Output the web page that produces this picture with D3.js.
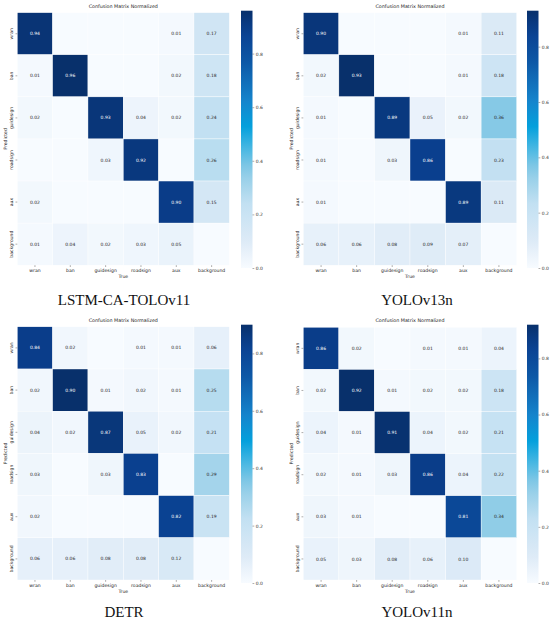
<!DOCTYPE html>
<html lang="en">
<head>
  <meta charset="UTF-8">
  <title>Confusion matrices</title>
  <script src="https://d3js.org/d3.v7.min.js"></script>
  <style>
    body { margin: 0; background: #fff; }
    svg { display: block; }
    .small { font-family: "DejaVu Sans", sans-serif; fill: #222; }
    .caption { font-family: "Liberation Serif", "DejaVu Serif", serif; font-size: 15px; fill: #111; }
    .cbar .domain { display: none; }
    .cbar text { font-family: "DejaVu Sans", sans-serif; font-size: 4.5px; fill: #333; }
    .cbar line { stroke: #333; stroke-width: 0.4; }
  </style>
</head>
<body>
<svg id="chart" width="550" height="625"></svg>
<script>
const labels = ["wran", "ban", "guidesign", "roadsign", "aux", "background"];
const models = ["LSTM-CA-TOLOv11", "YOLOv13n", "DETR", "YOLOv11n"];

// rows = Predicted, columns = True (0 = empty cell)
const lstmMatrix = [
  [0.94, 0,    0,    0,    0.01, 0.17],
  [0.01, 0.96, 0,    0,    0.02, 0.18],
  [0.02, 0,    0.93, 0.04, 0.02, 0.24],
  [0,    0,    0.03, 0.92, 0,    0.26],
  [0.02, 0,    0,    0,    0.90, 0.15],
  [0.01, 0.04, 0.02, 0.03, 0.05, 0]
];
const yolo13Matrix = [
  [0.90, 0,    0,    0,    0.01, 0.11],
  [0.02, 0.93, 0,    0,    0.01, 0.18],
  [0.01, 0,    0.89, 0.05, 0.02, 0.36],
  [0.01, 0,    0.03, 0.86, 0,    0.23],
  [0.01, 0,    0,    0,    0.89, 0.11],
  [0.06, 0.06, 0.08, 0.09, 0.07, 0]
];
const detrMatrix = [
  [0.84, 0.02, 0,    0.01, 0.01, 0.06],
  [0.02, 0.90, 0.01, 0.02, 0.01, 0.25],
  [0.04, 0.02, 0.87, 0.05, 0.02, 0.21],
  [0.03, 0,    0.03, 0.83, 0,    0.29],
  [0.02, 0,    0,    0,    0.82, 0.19],
  [0.06, 0.06, 0.08, 0.08, 0.12, 0]
];
const yolo11Matrix = [
  [0.86, 0.02, 0,    0.01, 0.01, 0.04],
  [0.02, 0.92, 0.01, 0.02, 0.02, 0.18],
  [0.04, 0.01, 0.91, 0.04, 0.02, 0.21],
  [0.02, 0.01, 0.03, 0.86, 0.04, 0.22],
  [0.03, 0.01, 0,    0,    0.81, 0.34],
  [0.05, 0.03, 0.08, 0.06, 0.10, 0]
];
const matrices = [lstmMatrix, yolo13Matrix, detrMatrix, yolo11Matrix];
const cbarTicks = [0, 0.2, 0.4, 0.6, 0.8];

// panel layout: heatmap box, colorbar box, caption position
const panels = [
  {x: 17.3,  y: 12.7,  w: 212, h: 252.5, cbx: 241, cby: 10.7,  cbh: 257.3, capX: 124, capY: 305},
  {x: 303.3, y: 12.7,  w: 213.4, h: 252.5, cbx: 527, cby: 10.7,  cbh: 257.3, capX: 417, capY: 305},
  {x: 17.3,  y: 326.8, w: 212, h: 253.2, cbx: 241, cby: 324.7, cbh: 258.3, capX: 124, capY: 617},
  {x: 303.3, y: 327.3, w: 213.4, h: 252.7, cbx: 527, cby: 324.7, cbh: 258.3, capX: 417, capY: 617}
];

const stops = [0, 0.1, 0.25, 0.38, 0.48, 0.55, 0.65, 0.8, 0.92, 1];
const stopColors = ["#f7fbff", "#deebf7", "#c2e0f2", "#8ccbe6", "#3cb4e2", "#04a0dc",
                    "#1584cc", "#0d58a6", "#0a4090", "#08306b"];

const svg = d3.select("#chart");
const defs = svg.append("defs");

matrices.forEach((m, k) => {
  const p = panels[k];
  const vmax = d3.max(m.flat());
  const color = d3.scaleLinear()
    .domain(stops.map(t => t * vmax))
    .range(stopColors)
    .interpolate(d3.interpolateRgb)
    .clamp(true);

  const x = d3.scaleBand().domain(labels).range([p.x, p.x + p.w]);
  const y = d3.scaleBand().domain(labels).range([p.y, p.y + p.h]);

  const g = svg.append("g");

  const cells = m.flatMap((row, i) => row.map((v, j) => ({r: labels[i], c: labels[j], v})));

  g.selectAll("rect.cell")
    .data(cells)
    .join("rect")
    .attr("class", "cell")
    .attr("x", d => x(d.c))
    .attr("y", d => y(d.r))
    .attr("width", x.bandwidth())
    .attr("height", y.bandwidth())
    .attr("fill", d => color(d.v))
    .attr("stroke", "#fff")
    .attr("stroke-width", 0.4);

  g.selectAll("text.val")
    .data(cells.filter(d => d.v > 0))
    .join("text")
    .attr("class", "small")
    .attr("x", d => x(d.c) + x.bandwidth() / 2)
    .attr("y", d => y(d.r) + y.bandwidth() / 2)
    .attr("dy", "0.35em")
    .attr("text-anchor", "middle")
    .style("font-size", "4.5px")
    .style("fill", d => d.v / vmax > 0.6 ? "#fff" : "#262626")
    .text(d => d.v.toFixed(2));

  // x ticks
  const xb = p.y + p.h;
  g.selectAll("line.xt")
    .data(labels).join("line")
    .attr("x1", d => x(d) + x.bandwidth() / 2).attr("x2", d => x(d) + x.bandwidth() / 2)
    .attr("y1", xb).attr("y2", xb + 1.8)
    .attr("stroke", "#333").attr("stroke-width", 0.4);
  g.selectAll("text.xl")
    .data(labels).join("text")
    .attr("class", "small")
    .attr("x", d => x(d) + x.bandwidth() / 2)
    .attr("y", xb + 7)
    .attr("text-anchor", "middle")
    .style("font-size", "4.6px")
    .text(d => d);
  g.append("text")
    .attr("class", "small")
    .attr("x", p.x + p.w / 2)
    .attr("y", xb + 13)
    .attr("text-anchor", "middle")
    .style("font-size", "4.6px")
    .text("True");

  // y ticks
  g.selectAll("line.yt")
    .data(labels).join("line")
    .attr("x1", p.x - 1.8).attr("x2", p.x)
    .attr("y1", d => y(d) + y.bandwidth() / 2).attr("y2", d => y(d) + y.bandwidth() / 2)
    .attr("stroke", "#333").attr("stroke-width", 0.4);
  g.selectAll("text.yl")
    .data(labels).join("text")
    .attr("class", "small")
    .attr("transform", d => `translate(${p.x - 4},${y(d) + y.bandwidth() / 2}) rotate(-90)`)
    .attr("text-anchor", "middle")
    .style("font-size", "4.6px")
    .text(d => d);
  g.append("text")
    .attr("class", "small")
    .attr("transform", `translate(${p.x - 10.5},${p.y + p.h / 2}) rotate(-90)`)
    .attr("text-anchor", "middle")
    .style("font-size", "4.6px")
    .text("Predicted");

  // title
  g.append("text")
    .attr("class", "small")
    .attr("x", p.x + p.w / 2)
    .attr("y", p.y - 5)
    .attr("text-anchor", "middle")
    .style("font-size", "4.8px")
    .text("Confusion Matrix Normalized");

  // colorbar
  const gid = "grad" + k;
  const grad = defs.append("linearGradient")
    .attr("id", gid).attr("x1", 0).attr("y1", 1).attr("x2", 0).attr("y2", 0);
  d3.range(0, 1.0001, 0.05).forEach(t => {
    grad.append("stop").attr("offset", t).attr("stop-color", color(t * vmax));
  });
  g.append("rect")
    .attr("x", p.cbx).attr("y", p.cby)
    .attr("width", 11.5).attr("height", p.cbh)
    .attr("fill", `url(#${gid})`);
  const cs = d3.scaleLinear().domain([0, vmax]).range([p.cby + p.cbh, p.cby]);
  g.append("g")
    .attr("class", "cbar")
    .attr("transform", `translate(${p.cbx + 11.5},0)`)
    .call(d3.axisRight(cs).tickValues(cbarTicks).tickSize(1.8).tickPadding(1.5).tickFormat(d3.format(".1f")));

  // caption
  g.append("text")
    .attr("class", "caption")
    .attr("x", p.capX)
    .attr("y", p.capY)
    .attr("text-anchor", "middle")
    .text(models[k]);
});
</script>
</body>
</html>
